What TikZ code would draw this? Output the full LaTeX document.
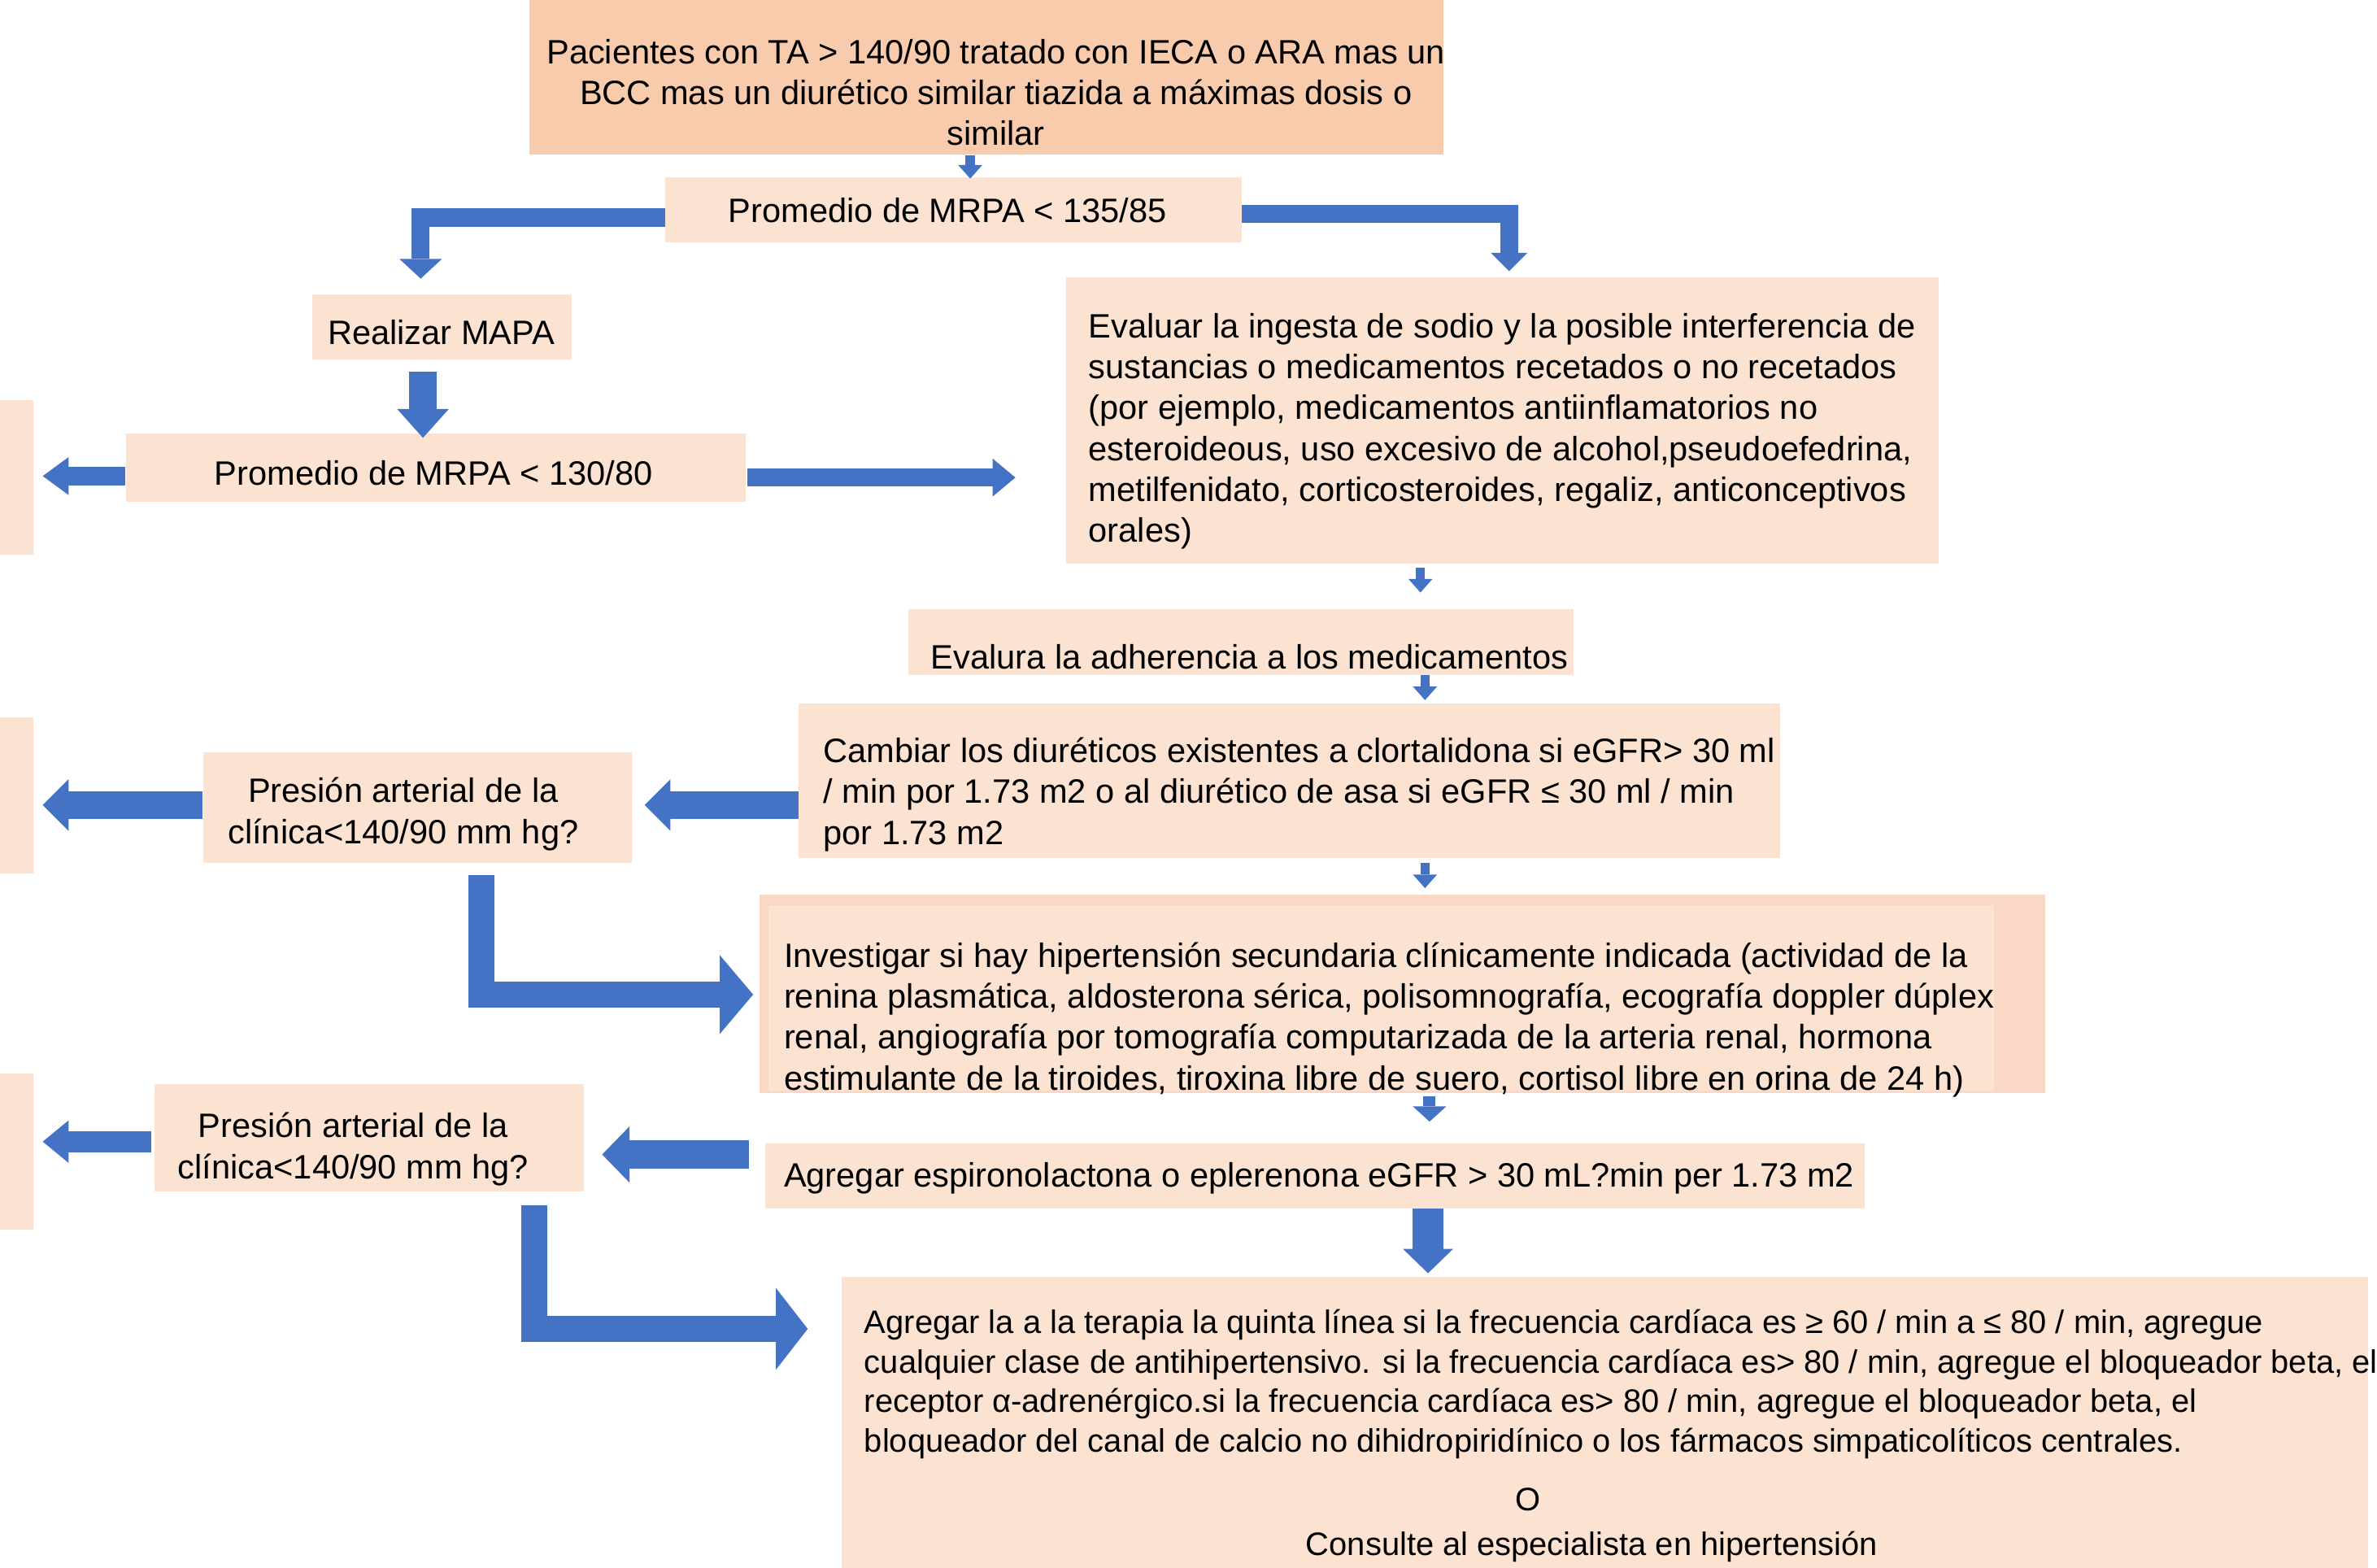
\documentclass[tikz,border=0pt]{standalone}
\usepackage{fontspec}
\setmainfont{Liberation Sans}
\usetikzlibrary{arrows.meta,calc}
\definecolor{peachD}{HTML}{F8CBAD}
\definecolor{peach}{HTML}{FCE2D1}
\definecolor{peachM}{HTML}{F9D8C5}
\definecolor{ablue}{HTML}{4472C4}
\newcommand{\bodyfs}{\fontsize{22.3}{27}\selectfont}
\newcommand{\finalfs}{\fontsize{21.4}{26}\selectfont}
\tikzset{
  box/.style={fill=peach, draw=none, inner sep=0pt},
  txt/.style={font=\bodyfs, inner sep=0pt, align=left, text=black},
  ctxt/.style={font=\bodyfs, inner sep=0pt, align=center, text=black},
  barrow/.style n args={3}{draw=ablue, line width=#1, line join=miter,
    -{Triangle[width=#2, length=#3, line width=0pt]}},
}
\begin{document}
\begin{tikzpicture}[x=1pt,y=-1pt]
\useasboundingbox (0,0) rectangle (1568,1034);

% ---- boxes ----
\node[box, fill=peachD, minimum width=603pt, minimum height=102pt] (top) at (650.5,51) {};
\node[box, minimum width=380pt, minimum height=43pt] (b2) at (629,138.5) {};
\node[box, minimum width=171pt, minimum height=43pt] (mapa) at (291.5,215.5) {};
\node[box, minimum width=409pt, minimum height=45pt] (b130) at (287.5,308.5) {};
\node[box, minimum width=576pt, minimum height=189pt] (eval) at (991,277.5) {};
\node[box, minimum width=439pt, minimum height=43pt] (adher) at (818.5,423.5) {};
\node[box, minimum width=647pt, minimum height=102pt] (camb) at (850.5,515) {};
\node[box, minimum width=283pt, minimum height=73pt] (pres1) at (275.5,532.5) {};
\node[box, fill=peachM, minimum width=848pt, minimum height=131pt] (inv) at (925,655.5) {};
\fill[peach] ($(inv.north west)+(6,7)$) rectangle ($(inv.south east)+(-34,-2)$);
\node[box, minimum width=725pt, minimum height=43pt] (agreg) at (867.5,775.5) {};
\node[box, minimum width=283pt, minimum height=71pt] (pres2) at (243.5,750.5) {};
\node[box, minimum width=1007pt, minimum height=192pt] (final) at (1058.5,938) {};
\node[box, minimum width=22pt, minimum height=102pt] (strip1) at (11,315) {};
\node[box, minimum width=22pt, minimum height=103pt] (strip2) at (11,524.5) {};
\node[box, minimum width=22pt, minimum height=103pt] (strip3) at (11,759.5) {};

% ---- texts ----
\node[ctxt] (topT) at (657,61) {Pacientes con TA > 140/90 tratado con IECA o ARA mas un\\BCC mas un diurético similar tiazida a máximas dosis o\\similar};
\node[ctxt] (b2T) at (625,139) {Promedio de MRPA < 135/85};
\node[ctxt] (mapaT) at (291,219) {Realizar MAPA};
\node[ctxt] (b130T) at (286,312) {Promedio de MRPA < 130/80};
\node[txt, anchor=west] (evalT) at (718,284.5) {Evaluar la ingesta de sodio y la posible interferencia de\\sustancias o medicamentos recetados o no recetados\\(por ejemplo, medicamentos antiinflamatorios no\\esteroideous, uso excesivo de alcohol,pseudoefedrina,\\metilfenidato, corticosteroides, regaliz, anticonceptivos\\orales)};
\node[txt, anchor=west] (adherT) at (614,433.5) {Evalura la adherencia a los medicamentos};
\node[txt, anchor=west] (cambT) at (543,524) {Cambiar los diuréticos existentes a clortalidona si eGFR> 30 ml\\/ min por 1.73 m2 o al diurético de asa si eGFR ≤ 30 ml / min\\por 1.73 m2};
\node[ctxt] (pres1T) at (266,537) {Presión arterial de la\\clínica<140/90 mm hg?};
\node[txt, anchor=west] (invT) at (517,672.5) {Investigar si hay hipertensión secundaria clínicamente indicada (actividad de la\\renina plasmática, aldosterona sérica, polisomnografía, ecografía doppler dúplex\\renal, angiografía por tomografía computarizada de la arteria renal, hormona\\estimulante de la tiroides, tiroxina libre de suero, cortisol libre en orina de 24 h)};
\node[txt, anchor=west] (agregT) at (517,777) {Agregar espironolactona o eplerenona eGFR > 30 mL?min per 1.73 m2};
\node[ctxt] (pres2T) at (233,758) {Presión arterial de la\\clínica<140/90 mm hg?};
\node[txt, font=\finalfs, anchor=west] (finalT) at (570,913) {Agregar la a la terapia la quinta línea si la frecuencia cardíaca es ≥ 60 / min a ≤ 80 / min, agregue\\cualquier clase de antihipertensivo. si la frecuencia cardíaca es> 80 / min, agregue el bloqueador beta, el\\receptor α-adrenérgico.si la frecuencia cardíaca es> 80 / min, agregue el bloqueador beta, el\\bloqueador del canal de calcio no dihidropiridínico o los fármacos simpaticolíticos centrales.};
\node[ctxt, font=\finalfs] (oT) at (1008,989) {O};
\node[ctxt, font=\finalfs] (consT) at (1050,1020) {Consulte al especialista en hipertensión};

% ---- arrows ----
\draw[barrow={6pt}{16pt}{9pt}] ($(top.south)+(-10.5,0)$) -- ($(b2.north)+(11,1)$);
\draw[barrow={12pt}{28pt}{13pt}] ($(b2.west)+(0,5)$) -| ($(mapa.north)+(-14,-10)$);
\draw[barrow={12pt}{24pt}{12pt}] ($(b2.east)+(0,2.5)$) -| ($(eval.north)+(4.5,-4)$);
\draw[barrow={18pt}{34pt}{19pt}] ($(mapa.south)+(-12.5,8)$) -- ($(b130.north)+(-8.5,3)$);
\draw[barrow={12pt}{25pt}{17pt}] ($(b130.west)+(0,5.5)$) -- ($(strip1.east)+(6,-1)$);
\draw[barrow={12pt}{25pt}{15pt}] ($(b130.east)+(1,6.5)$) -- ($(eval.west)+(-33,37.5)$);
\draw[barrow={6pt}{16pt}{9pt}] ($(eval.south)+(-54,2)$) -- ($(adher.north)+(118.5,-11)$);
\draw[barrow={6pt}{16pt}{9pt}] ($(adher.south)+(121.5,0)$) -- ($(camb.north)+(89.5,-2)$);
\draw[barrow={18pt}{34pt}{17pt}] ($(camb.west)+(0,16)$) -- ($(pres1.east)+(8,-1.5)$);
\draw[barrow={18pt}{34pt}{17pt}] ($(pres1.west)+(0,-1.5)$) -- ($(strip2.east)+(6,6.5)$);
\draw[barrow={17.5pt}{52pt}{22pt}] ($(pres1.south)+(42,8)$) |- ($(inv.west)+(-4,0.5)$);
\draw[barrow={6pt}{16pt}{9pt}] ($(camb.south)+(89.5,3)$) -- ($(inv.north)+(15,-4)$);
\draw[barrow={8pt}{22pt}{10pt}] ($(inv.south)+(18,2)$) -- ($(agreg.north)+(75.5,-14)$);
\draw[barrow={19pt}{37pt}{18pt}] ($(agreg.west)+(-11,-14)$) -- ($(pres2.east)+(12,11)$);
\draw[barrow={14pt}{28pt}{17pt}] ($(pres2.west)+(-2,2.5)$) -- ($(strip3.east)+(6,-6.5)$);
\draw[barrow={20pt}{33pt}{16pt}] ($(agreg.south)+(74.5,0)$) -- ($(final.north)+(-116.5,-2)$);
\draw[barrow={17pt}{54pt}{21pt}] ($(pres2.south)+(109,9)$) |- ($(final.west)+(-22,-61.5)$);
\end{tikzpicture}
\end{document}
